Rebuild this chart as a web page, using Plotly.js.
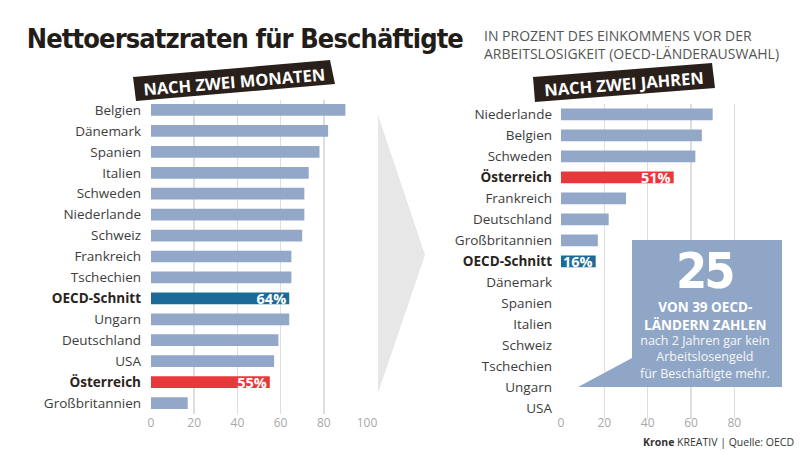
<!DOCTYPE html>
<html>
<head>
<meta charset="utf-8">
<script src="https://cdn.plot.ly/plotly-3.0.1.min.js"></script>
<style>
html,body{margin:0;padding:0;background:#fff;}
#chart{width:800px;height:452px;}
g.annotation[data-index="0"] text{letter-spacing:-0.9px;}
g.annotation[data-index="4"] text{letter-spacing:-3px;}
</style>
</head>
<body>
<div id="chart"></div>
<script>
// ---- data ----
const leftCountries = ['Belgien','Dänemark','Spanien','Italien','Schweden','Niederlande','Schweiz','Frankreich','Tschechien','OECD-Schnitt','Ungarn','Deutschland','USA','Österreich','Großbritannien'];
const leftValues = [90,82,78,73,71,71,70,65,65,64,64,59,57,55,17];
const leftBarLabels = ['','','','','','','','','','64%','','','','55%',''];

const rightCountries = ['Niederlande','Belgien','Schweden','Österreich','Frankreich','Deutschland','Großbritannien','OECD-Schnitt','Dänemark','Spanien','Italien','Schweiz','Tschechien','Ungarn','USA'];
const rightValues = [70,65,62,52,30,22,17,16,0,0,0,0,0,0,0];
const rightBarLabels = ['','','','51%','','','','16%','','','','','','',''];

const leftTicks = [0,20,40,60,80,100];
const rightTicks = [0,20,40,60,80];
const highlight = {'OECD-Schnitt':'#1b6a97','Österreich':'#e8383c'};
const baseColor = '#93a8c8';

// ---- helpers ----
const W = 800, H = 452;
const px = x => x / W;
const py = y => 1 - y / H;
const colorsFor = cs => cs.map(c => highlight[c] || baseColor);
const tickTextFor = cs => cs.map(c => highlight[c] ? '<b><span style="color:#2a2420">' + c + '</span></b>' : c);
const path = pts => 'M ' + pts.map(p => px(p[0]).toFixed(5) + ',' + py(p[1]).toFixed(5)).join(' L ') + ' Z';
const HEAVY = 'DejaVu Sans Condensed, DejaVu Sans, sans-serif';

const barCommon = {
  type: 'bar', orientation: 'h', textposition: 'inside', insidetextanchor: 'end',
  constraintext: 'none', textangle: 0, cliponaxis: false, hoverinfo: 'skip',
  insidetextfont: {family: 'Open Sans', size: 14.5, color: '#ffffff', weight: 700}
};

const traces = [
  Object.assign({}, barCommon, {
    x: leftValues, y: leftCountries, text: leftBarLabels,
    marker: {color: colorsFor(leftCountries)}, xaxis: 'x', yaxis: 'y'
  }),
  Object.assign({}, barCommon, {
    x: rightValues, y: rightCountries, text: rightBarLabels,
    marker: {color: colorsFor(rightCountries)}, xaxis: 'x2', yaxis: 'y2'
  })
];

const xCommon = {
  showline: false, zeroline: false, ticks: '', showgrid: true,
  gridcolor: '#dedede', gridwidth: 1.5, fixedrange: true,
  tickfont: {family: 'Open Sans', size: 12, color: '#a8a8a8'}
};
const yCommon = {
  type: 'category', autorange: 'reversed', showline: false, zeroline: false,
  showgrid: false, ticks: '', fixedrange: true,
  tickfont: {family: 'Open Sans', size: 13.5, color: '#3d3d3d'}
};

const annFont = (size, color, weight, family) => ({family: family || 'Open Sans', size, color, weight: weight || 400});

const layout = {
  width: W, height: H, margin: {l: 0, r: 0, t: 0, b: 0},
  paper_bgcolor: '#ffffff', plot_bgcolor: 'rgba(0,0,0,0)', showlegend: false,
  bargap: 0.44,
  xaxis: Object.assign({}, xCommon, {domain: [px(151), px(367)], range: [0, 100], tickvals: leftTicks, anchor: 'y'}),
  yaxis: Object.assign({}, yCommon, {domain: [py(413.5), py(99.5)], anchor: 'x', ticklabelstandoff: 9,
    categoryorder: 'array', categoryarray: leftCountries, tickvals: leftCountries, ticktext: tickTextFor(leftCountries)}),
  xaxis2: Object.assign({}, xCommon, {domain: [px(561), px(777.7)], range: [0, 100], tickvals: rightTicks, anchor: 'y2', ticklabelstandoff: -5}),
  yaxis2: Object.assign({}, yCommon, {domain: [py(418.8), py(103.8)], anchor: 'x2', ticklabelstandoff: 8,
    categoryorder: 'array', categoryarray: rightCountries, tickvals: rightCountries, ticktext: tickTextFor(rightCountries)}),
  shapes: [
    {type: 'path', xref: 'paper', yref: 'paper', path: path([[378,115],[425,255],[378,393]]), fillcolor: '#e7e7e7', line: {width: 0}, layer: 'below'},
    {type: 'path', xref: 'paper', yref: 'paper', path: path([[133,77],[330,60],[335,84],[136,101]]), fillcolor: '#2a201b', line: {width: 0}},
    {type: 'path', xref: 'paper', yref: 'paper', path: path([[533,77],[712,63],[715,88],[535,102]]), fillcolor: '#2a201b', line: {width: 0}},
    {type: 'path', xref: 'paper', yref: 'paper', path: path([[632,240],[782,240],[782,387],[578,387],[632,358]]), fillcolor: '#90a6c6', line: {width: 0}, layer: 'above'}
  ],
  annotations: [
    {xref: 'paper', yref: 'paper', x: px(245), y: py(39), xanchor: 'center', yanchor: 'middle', showarrow: false,
     text: 'Nettoersatzraten für Beschäftigte', font: annFont(27, '#231d1a', 700, HEAVY)},
    {xref: 'paper', yref: 'paper', x: px(482), y: py(44), xanchor: 'left', yanchor: 'middle', showarrow: false, align: 'left',
     text: 'IN PROZENT DES EINKOMMENS VOR DER<br>ARBEITSLOSIGKEIT (OECD-LÄNDERAUSWAHL)', font: annFont(14, '#555555')},
    {xref: 'paper', yref: 'paper', x: px(234), y: py(81), xanchor: 'center', yanchor: 'middle', showarrow: false, textangle: -4.8,
     text: 'NACH ZWEI MONATEN', font: annFont(16.5, '#ffffff', 700)},
    {xref: 'paper', yref: 'paper', x: px(624), y: py(83), xanchor: 'center', yanchor: 'middle', showarrow: false, textangle: -4.5,
     text: 'NACH ZWEI JAHREN', font: annFont(16.5, '#ffffff', 700)},
    {xref: 'paper', yref: 'paper', x: px(704), y: py(271), xanchor: 'center', yanchor: 'middle', showarrow: false,
     text: '25', font: annFont(50, '#ffffff', 700, HEAVY)},
    {xref: 'paper', yref: 'paper', x: px(705), y: py(316), xanchor: 'center', yanchor: 'middle', showarrow: false,
     text: 'VON 39 OECD-<br>LÄNDERN ZAHLEN', font: annFont(13.5, '#ffffff', 700)},
    {xref: 'paper', yref: 'paper', x: px(705), y: py(357), xanchor: 'center', yanchor: 'middle', showarrow: false,
     text: 'nach 2 Jahren gar kein<br>Arbeitslosengeld<br>für Beschäftigte mehr.', font: annFont(12.5, '#f4f6fa')},
    {xref: 'paper', yref: 'paper', x: px(796), y: py(442), xanchor: 'right', yanchor: 'middle', showarrow: false,
     text: '<b>Krone</b> KREATIV | Quelle: OECD', font: annFont(10.5, '#333333')}
  ]
};

Plotly.newPlot('chart', traces, layout, {staticPlot: true, displayModeBar: false});
</script>
</body>
</html>
